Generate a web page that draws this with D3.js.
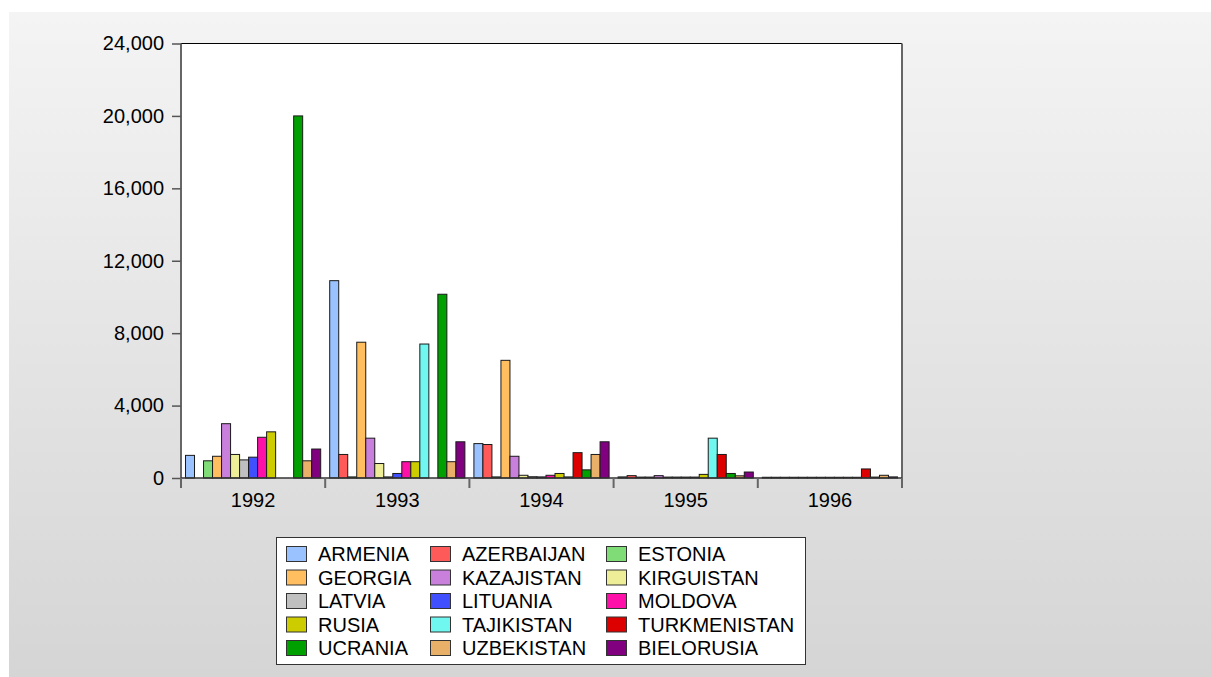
<!DOCTYPE html>
<html>
<head>
<meta charset="utf-8">
<script src="https://cdn.jsdelivr.net/npm/d3@7"></script>
<style>
  body { margin: 0; background: #fff; }
  svg { display: block; font-family: "Liberation Sans", Arial, sans-serif; }
</style>
</head>
<body>
<svg id="chart" width="1211" height="677"></svg>
<script>
// years on the x axis
const years = ["1992", "1993", "1994", "1995", "1996"];

// one array per country (null = no bar)
const armenia      = [1250, 10900, 1900, 60, 40];
const azerbaijan   = [null, 1300, 1850, 130, 40];
const estonia      = [950, 60, 60, 50, 40];
const georgia      = [1200, 7500, 6500, 50, 40];
const kazajistan   = [3000, 2200, 1200, 130, 40];
const kirguistan   = [1300, 800, 150, 50, 40];
const latvia       = [1000, 60, 70, 50, 40];
const lituania     = [1150, 250, 60, 50, 40];
const moldova      = [2250, 900, 150, 50, 40];
const rusia        = [2550, 900, 250, 200, 40];
const tajikistan   = [null, 7400, 60, 2200, 40];
const turkmenistan = [null, null, 1400, 1300, 500];
const ucrania      = [20000, 10150, 450, 250, 50];
const uzbekistan   = [950, 900, 1300, 120, 150];
const bielorusia   = [1600, 2000, 2000, 330, 60];

const countries = ["ARMENIA", "AZERBAIJAN", "ESTONIA", "GEORGIA", "KAZAJISTAN",
  "KIRGUISTAN", "LATVIA", "LITUANIA", "MOLDOVA", "RUSIA", "TAJIKISTAN",
  "TURKMENISTAN", "UCRANIA", "UZBEKISTAN", "BIELORUSIA"];
const colors = ["#99c2ff", "#ff5a5a", "#80dc77", "#ffbe60", "#c880dc",
  "#eeee99", "#c0c0c0", "#4050ff", "#ff10a8", "#cccc00", "#70f8f0",
  "#dd0000", "#00a000", "#e8b068", "#800080"];
const yTicks = [0, 4000, 8000, 12000, 16000, 20000, 24000];

const seriesValues = [armenia, azerbaijan, estonia, georgia, kazajistan,
  kirguistan, latvia, lituania, moldova, rusia, tajikistan, turkmenistan,
  ucrania, uzbekistan, bielorusia];

const series = countries.map((c, i) => ({ name: c, color: colors[i], values: seriesValues[i] }));

const svg = d3.select("#chart");

// background panel with a soft vertical gradient
const defs = svg.append("defs");
const grad = defs.append("linearGradient")
  .attr("id", "bg").attr("x1", 0).attr("y1", 0).attr("x2", 0).attr("y2", 1);
grad.append("stop").attr("offset", "0%").attr("stop-color", "#f4f4f4");
grad.append("stop").attr("offset", "100%").attr("stop-color", "#d5d5d5");
svg.append("rect")
  .attr("x", 9).attr("y", 12).attr("width", 1202).attr("height", 665)
  .attr("fill", "url(#bg)");

// plot area
const plot = { left: 181, top: 43.5, right: 902, bottom: 478 };

const x = d3.scaleBand()
  .domain(years)
  .range([plot.left, plot.right])
  .padding(0);

const xInner = d3.scaleBand()
  .domain(countries)
  .range([0, x.bandwidth()])
  .paddingInner(0)
  .paddingOuter(0.5);

const y = d3.scaleLinear()
  .domain([0, 24000])
  .range([plot.bottom, plot.top]);

svg.append("rect")
  .attr("x", plot.left).attr("y", plot.top)
  .attr("width", plot.right - plot.left).attr("height", plot.bottom - plot.top)
  .attr("fill", "#fff");

// bars
const groups = svg.append("g")
  .selectAll("g")
  .data(series)
  .join("g")
  .attr("fill", d => d.color);

groups.selectAll("rect")
  .data(d => d.values.map((v, i) => ({ name: d.name, year: years[i], value: v })).filter(e => e.value != null))
  .join("rect")
  .attr("x", d => x(d.year) + xInner(d.name))
  .attr("y", d => y(d.value))
  .attr("width", xInner.bandwidth())
  .attr("height", d => y(0) - y(d.value))
  .attr("stroke", "#1a1a1a")
  .attr("stroke-width", 1);

// frame: top black, right gray
svg.append("line")
  .attr("x1", plot.left).attr("x2", plot.right)
  .attr("y1", plot.top).attr("y2", plot.top)
  .attr("stroke", "#000").attr("stroke-width", 1);
svg.append("line")
  .attr("x1", plot.right).attr("x2", plot.right)
  .attr("y1", plot.top).attr("y2", plot.bottom + 10)
  .attr("stroke", "#666").attr("stroke-width", 2);

// y axis
const yAxis = svg.append("g")
  .attr("transform", "translate(" + plot.left + ",0)")
  .call(d3.axisLeft(y).tickValues(yTicks).tickFormat(d3.format(",")).tickSize(9).tickPadding(8));
yAxis.select(".domain").attr("stroke", "#666").attr("stroke-width", 2)
  .attr("d", "M0," + plot.top + "V" + (plot.bottom + 10));
yAxis.selectAll(".tick line").attr("stroke", "#555").attr("stroke-width", 1.5);
yAxis.selectAll("text").attr("font-size", 20).attr("fill", "#000")
  .attr("font-family", "Liberation Sans, Arial, sans-serif");

// x axis: labels centered, ticks on the year boundaries
const xAxis = svg.append("g")
  .attr("transform", "translate(0," + plot.bottom + ")")
  .call(d3.axisBottom(x).tickSize(0).tickPadding(15));
xAxis.select(".domain").attr("stroke", "#333").attr("stroke-width", 1.5)
  .attr("d", "M" + plot.left + ",0H" + plot.right);
xAxis.selectAll("text").attr("font-size", 20).attr("fill", "#000")
  .attr("font-family", "Liberation Sans, Arial, sans-serif");

const boundaries = years.map(d => x(d)).concat([plot.right]);
svg.append("g")
  .selectAll("line")
  .data(boundaries)
  .join("line")
  .attr("x1", d => d).attr("x2", d => d)
  .attr("y1", plot.bottom).attr("y2", plot.bottom + 10)
  .attr("stroke", "#666").attr("stroke-width", 2);

// legend
const legendBox = { x: 276, y: 537, w: 529, h: 127 };
svg.append("rect")
  .attr("x", legendBox.x + 0.5).attr("y", legendBox.y + 0.5)
  .attr("width", legendBox.w).attr("height", legendBox.h)
  .attr("fill", "#fff").attr("stroke", "#333").attr("stroke-width", 1);

const colX = [286, 430, 606];
const rowY0 = 554, rowStep = 23.5;

const legendItems = svg.append("g")
  .selectAll("g")
  .data(series)
  .join("g")
  .attr("transform", (d, i) => "translate(" + colX[i % 3] + "," + (rowY0 + Math.floor(i / 3) * rowStep) + ")");

legendItems.append("rect")
  .attr("x", 0.5).attr("y", -7.5)
  .attr("width", 20).attr("height", 15)
  .attr("fill", d => d.color)
  .attr("stroke", "#333").attr("stroke-width", 1);

legendItems.append("text")
  .attr("x", 32).attr("y", 0)
  .attr("dy", "0.36em")
  .attr("font-size", 20)
  .attr("fill", "#000")
  .text(d => d.name);
</script>
</body>
</html>
